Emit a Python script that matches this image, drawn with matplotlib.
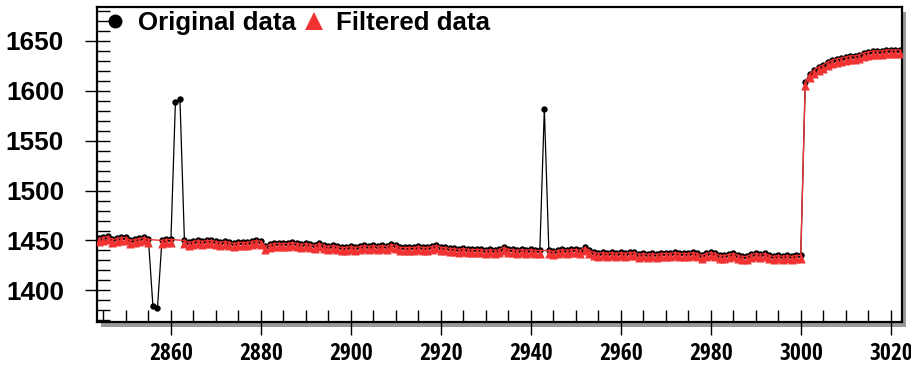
import matplotlib
matplotlib.use("Agg")
import matplotlib.pyplot as plt
from matplotlib import font_manager as fm
from matplotlib.patches import Rectangle
from matplotlib.lines import Line2D
from matplotlib.path import Path
from matplotlib.ticker import MultipleLocator
import numpy as np

# ---- data -------------------------------------------------------------
time_start, time_stop = 2844, 3022
original = [
    1452, 1453, 1454, 1451, 1452, 1453,
    1453, 1450, 1451, 1452, 1453, 1451, 1384, 1382, 1450, 1451,
    1451, 1589, 1592, 1450, 1448, 1449, 1450, 1449, 1450, 1450,
    1449, 1448, 1449, 1448, 1447, 1448, 1448, 1448, 1449, 1450,
    1449, 1444, 1446, 1447, 1447, 1447, 1447, 1448, 1447, 1446,
    1447, 1446, 1445, 1447, 1445, 1444, 1445, 1444, 1443, 1443,
    1444, 1443, 1444, 1445, 1444, 1445, 1444, 1445, 1444, 1446,
    1445, 1443, 1443, 1443, 1443, 1444, 1443, 1443, 1444, 1445,
    1443, 1443, 1442, 1442, 1441, 1442, 1441, 1441, 1441, 1441,
    1440, 1441, 1440, 1441, 1443, 1441, 1441, 1440, 1441, 1440,
    1441, 1440, 1440, 1582, 1440, 1439, 1440, 1441, 1440, 1441,
    1441, 1440, 1443, 1440, 1438, 1437, 1438, 1437, 1438, 1437,
    1438, 1437, 1438, 1438, 1436, 1437, 1436, 1437, 1436, 1437,
    1437, 1437, 1438, 1437, 1437, 1437, 1438, 1437, 1435, 1437,
    1438, 1437, 1435, 1435, 1436, 1437, 1435, 1434, 1434, 1436,
    1437, 1436, 1437, 1435, 1434, 1435, 1434, 1435, 1434, 1435,
    1435, 1609, 1617, 1621, 1624, 1626, 1629, 1631, 1632, 1633,
    1634, 1635, 1635, 1636, 1638, 1639, 1640, 1640, 1640, 1641,
    1641, 1641, 1641,
]
time = np.arange(time_start, time_stop + 1)
assert len(time) == len(original)

# samples rejected by the filter
outlier_times = [2856, 2857, 2861, 2862, 2943]
keep = ~np.isin(time, outlier_times)
filtered_time = time[keep]
filtered = np.asarray(original)[keep]

x_ticks_major, x_ticks_minor = 20, 5
y_ticks_major, y_ticks_minor = 50, 10


# ---- fonts ------------------------------------------------------------
def _weight(entry):
    w = entry.weight
    if isinstance(w, str):
        return {"bold": 700, "heavy": 800, "black": 900, "semibold": 600,
                "demibold": 600}.get(w.lower(), 400)
    return int(w)


def narrow_bold_font():
    """Return a condensed bold sans font file if one is installed."""
    prefs = ["Liberation Sans", "Arial", "Noto Sans", "Open Sans", "Roboto",
             "DejaVu Sans"]
    found = []
    for e in fm.fontManager.ttflist:
        narrow = ("narrow" in e.name.lower() or "condensed" in e.name.lower()
                  or "condensed" in str(e.stretch).lower()
                  or "narrow" in e.fname.lower() or "condensed" in e.fname.lower())
        if not narrow or e.style != "normal" or _weight(e) < 600:
            continue
        if "extra" in e.fname.lower() or "ultra" in e.fname.lower():
            continue
        rank = next((i for i, p in enumerate(prefs) if e.name.startswith(p)),
                    len(prefs))
        found.append((rank, abs(_weight(e) - 700), e.fname))
    if found:
        found.sort()
        return found[0][2]
    return None


narrow_file = narrow_bold_font()
if narrow_file:
    xtick_font = fm.FontProperties(fname=narrow_file, size=17)
else:
    xtick_font = fm.FontProperties(family=["Liberation Sans", "DejaVu Sans"],
                                   weight="bold", size=15)
ytick_font = fm.FontProperties(family=["Liberation Sans", "DejaVu Sans"],
                               weight="bold", size=18.8)
legend_font = fm.FontProperties(family=["Liberation Sans", "DejaVu Sans"],
                                weight="bold", size=18.6)

# ---- styling ----------------------------------------------------------
RED = "#f03232"

# up-pointing triangle whose apex sits just above the sample point
tri_marker = Path([(0, 0.4), (-0.85, -1.6), (0.85, -1.6), (0, 0.4)],
                  [Path.MOVETO, Path.LINETO, Path.LINETO, Path.CLOSEPOLY])

W, H = 912, 366
fig = plt.figure(figsize=(W / 100, H / 100), dpi=100)
fig.patch.set_facecolor("white")

x0, x1 = 96.7, 902.0      # frame edges in pixels (left / right)
y0, y1 = 322.0, 7.0       # frame edges in pixels (bottom / top, from top)
ax = fig.add_axes([x0 / W, (H - y0) / H, (x1 - x0) / W, (y0 - y1) / H])
ax.set_zorder(1)

# drop shadow behind the frame
shadow = Rectangle(((x0 + 4.5) / W, (H - y0 - 4.5) / H), (x1 - x0) / W, (y0 - y1) / H,
                   transform=fig.transFigure, facecolor="#9a9a9a",
                   edgecolor="none", zorder=0)
fig.patches.append(shadow)

ax.plot(time, original, color="black", lw=0.9, marker="o", ms=4.6,
        mfc="black", mec="black", mew=0, zorder=2)
ax.plot(filtered_time, filtered, color=RED, lw=1.0, marker=tri_marker, ms=11.5,
        mfc=RED, mec=RED, mew=0, zorder=3)

ax.set_xlim(2843.5, 3022.5)
ax.set_ylim(1368.3, 1684.0)

for side in ("left", "bottom", "right", "top"):
    ax.spines[side].set_linewidth(1.6)
    ax.spines[side].set_color("black")

ax.xaxis.set_major_locator(MultipleLocator(x_ticks_major))
ax.xaxis.set_minor_locator(MultipleLocator(x_ticks_minor))
ax.yaxis.set_major_locator(MultipleLocator(y_ticks_major))
ax.yaxis.set_minor_locator(MultipleLocator(y_ticks_minor))

ax.tick_params(which="major", direction="inout", length=18, width=1.0,
               top=False, right=False)
ax.tick_params(which="minor", direction="in", length=9, width=1.0,
               top=False, right=False)
ax.tick_params(axis="y", which="major", pad=14.5)
ax.tick_params(axis="x", which="major", pad=5.5)

for lab in ax.get_yticklabels():
    lab.set_fontproperties(ytick_font)
for lab in ax.get_xticklabels():
    lab.set_fontproperties(xtick_font)

handles = [
    Line2D([], [], ls="none", marker="o", ms=10, mfc="black", mec="black", mew=0),
    Line2D([], [], ls="none", marker="^", ms=12.5, mfc=RED, mec=RED, mew=0),
]
leg = ax.legend(handles, ["Original data", "Filtered data"],
                loc="center left",
                bbox_to_anchor=((102.5 - x0) / (x1 - x0), (y0 - 23) / (y0 - y1)),
                ncol=2, frameon=False, handlelength=1.0, handletextpad=0.36,
                columnspacing=0.2, borderaxespad=0, borderpad=0,
                prop=legend_font)

fig.savefig("out.png", dpi=100)
